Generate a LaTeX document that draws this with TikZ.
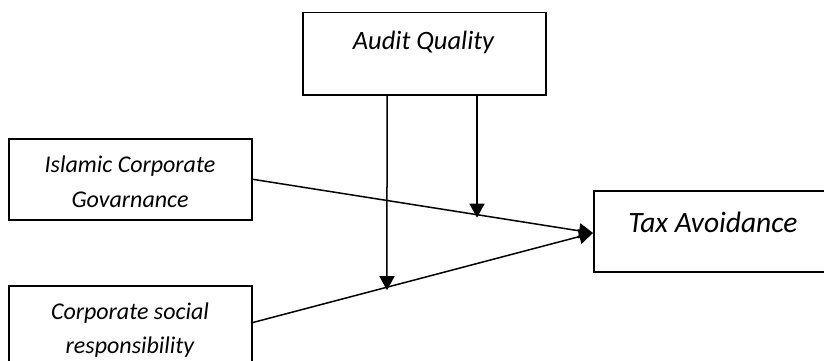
\documentclass[tikz,border=0pt]{standalone}
\usepackage{fontspec}
\setmainfont{Carlito}
\usetikzlibrary{arrows.meta,calc}
\begin{document}
\begin{tikzpicture}[x=1pt,y=-1pt,
  box/.style={draw,line width=1.5pt,inner sep=0pt,anchor=north west},
  lbl/.style={font=\itshape,align=center,inner sep=0pt},
  conn/.style={line width=1.5pt},
  arr/.style={conn,-{Triangle[length=14pt,width=15pt]}}]
\useasboundingbox (0,0) rectangle (824,361);
\clip (0,0) rectangle (824,361);
% boxes
\node[box,minimum width=243pt,minimum height=82pt] (aq) at (302,12) {};
\node[box,minimum width=243pt,minimum height=81pt] (isl) at (8,138) {};
\node[box,minimum width=243pt,minimum height=78pt] (csr) at (8,285) {};
\node[box,minimum width=260pt,minimum height=81pt] (tax) at (593,190) {};
% labels
\node[lbl,font=\itshape\fontsize{26.5}{30}\selectfont] (aqt) at (423.5,42) {Audit Quality};
\node[lbl,font=\itshape\fontsize{24}{35}\selectfont] (islt) at (130,182) {Islamic Corporate\\Govarnance};
\node[lbl,font=\itshape\fontsize{24}{34}\selectfont] (csrt) at (130,330) {Corporate social\\responsibility};
\node[lbl,font=\itshape\fontsize{29.5}{33}\selectfont] (taxt) at (713,222) {Tax Avoidance};
% connector endpoints
\coordinate (islA) at (isl.east);
\coordinate (csrA) at (251,323);
\coordinate (tip) at (593,233);
\coordinate (v1top) at (387,94);
\coordinate (v2top) at (477,94);
\coordinate (v1end) at (intersection of csrA--tip and v1top--{387,400});
\coordinate (v2end) at (intersection of islA--tip and v2top--{477,400});
% connectors
\draw[arr] (islA) -- (tip);
\draw[arr] (csrA) -- (tip);
\draw[arr] (v1top) -- ($(v1end)+(0,3)$);
\draw[arr] (v2top) -- ($(v2end)+(0,3)$);
\end{tikzpicture}
\end{document}
